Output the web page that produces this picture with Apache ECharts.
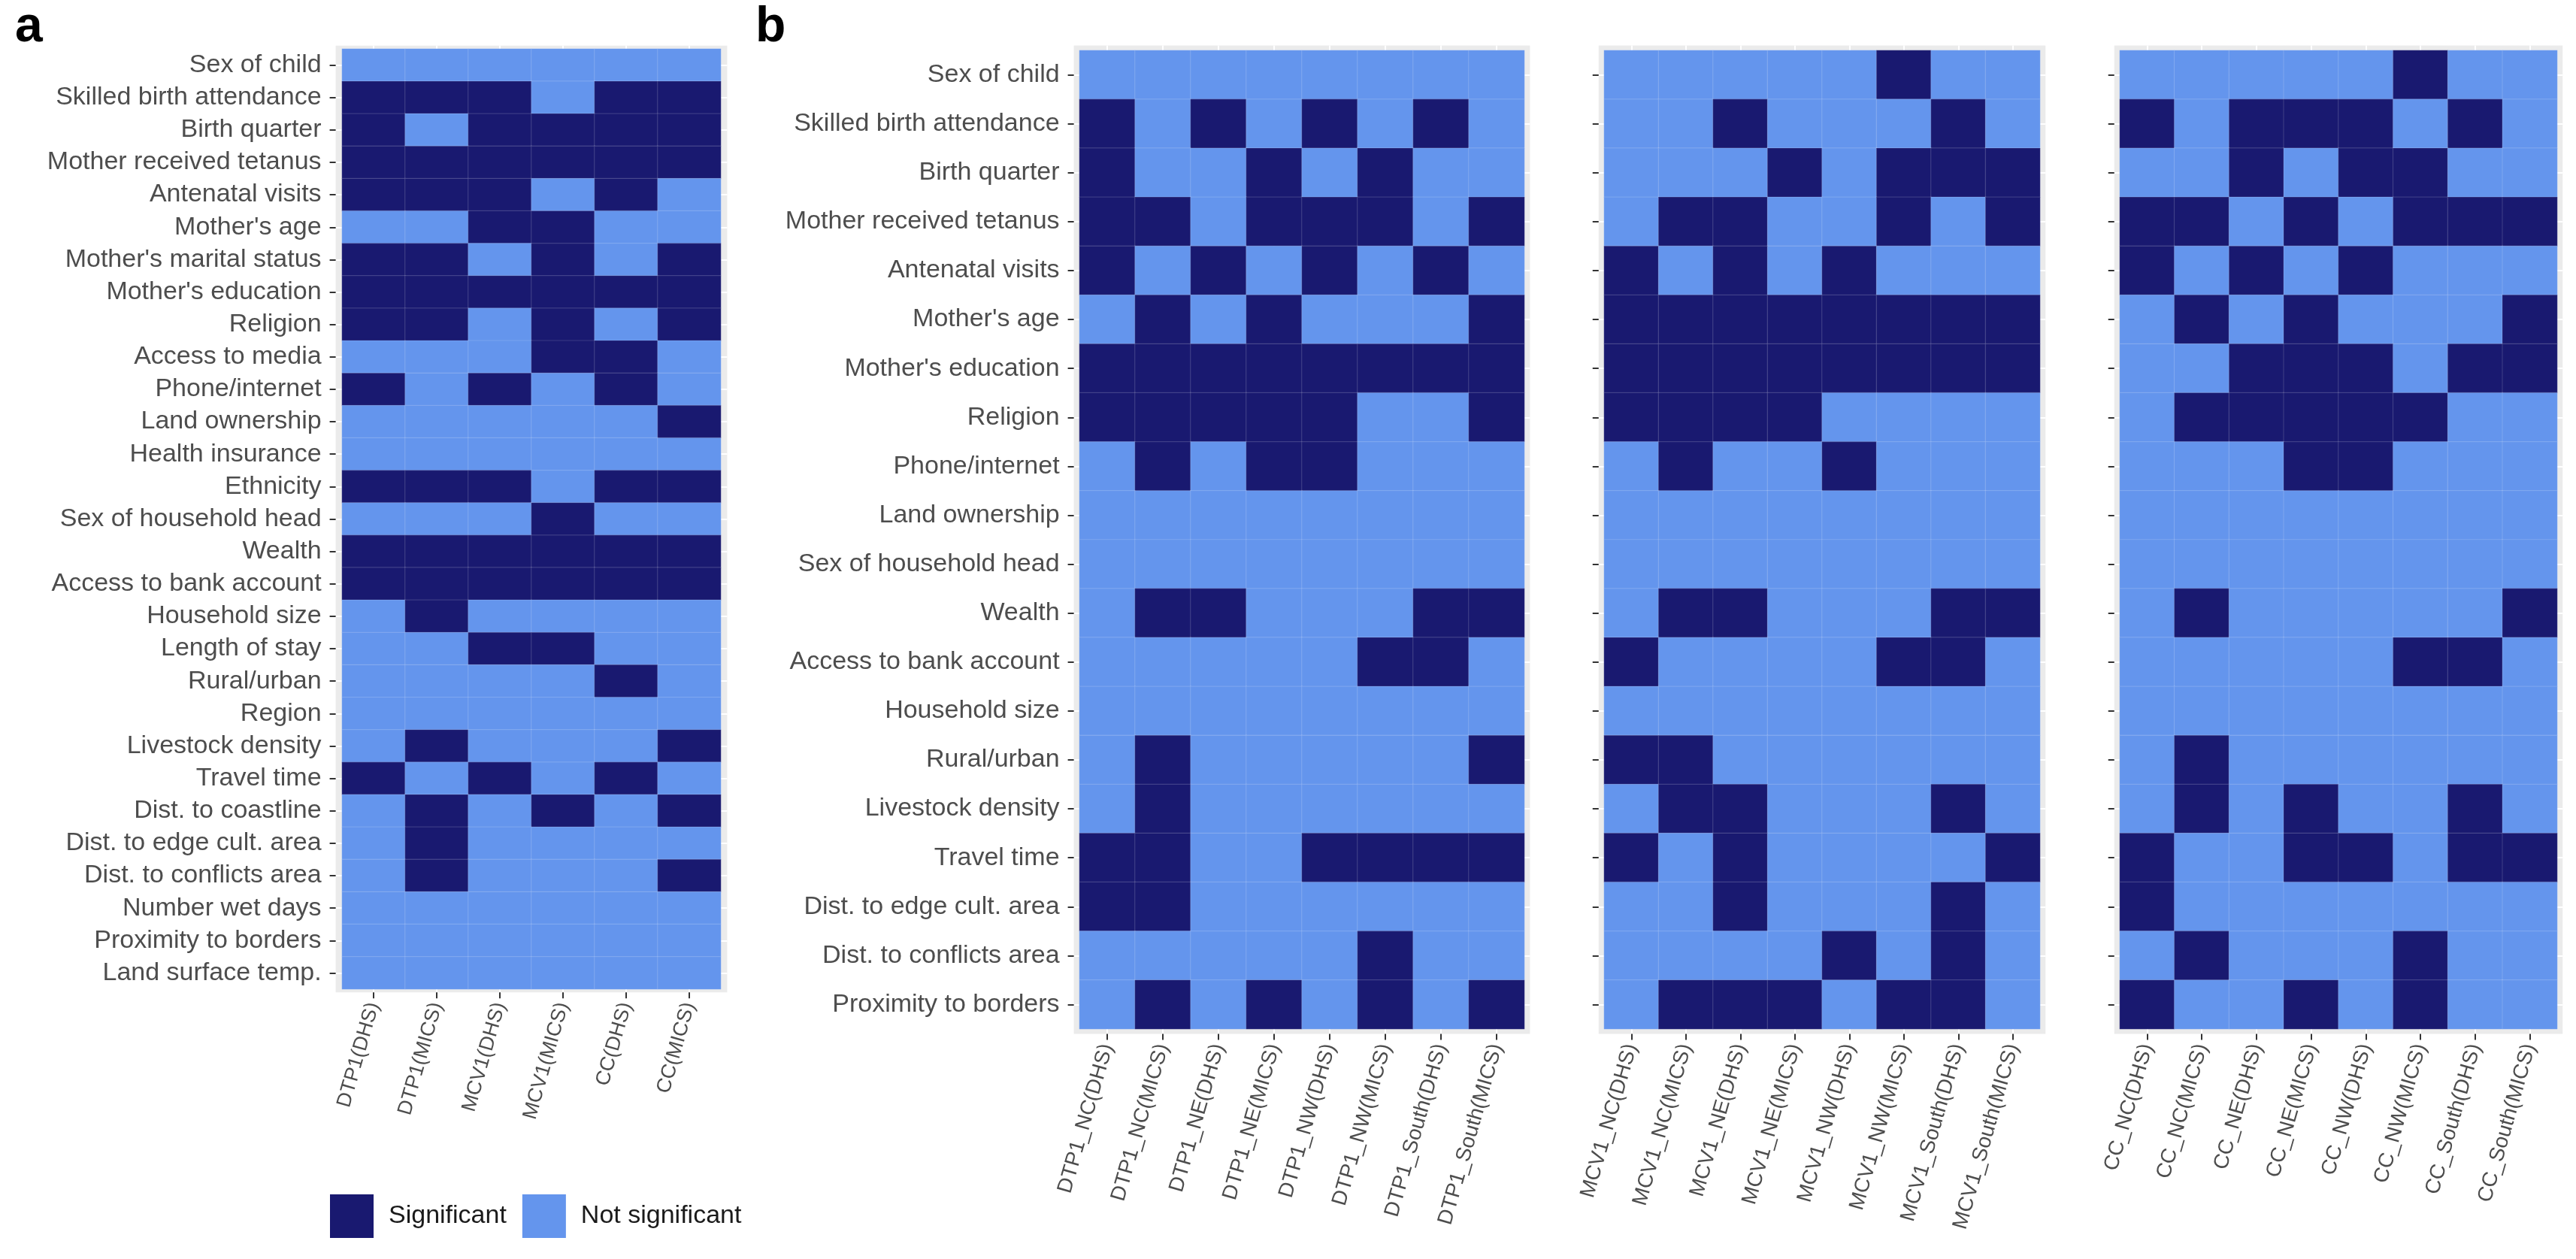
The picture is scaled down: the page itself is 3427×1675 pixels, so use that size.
<!DOCTYPE html>
<html>
<head>
<meta charset="utf-8">
<script src="https://cdn.jsdelivr.net/npm/echarts@6/dist/echarts.min.js"></script>
<style>
html,body{margin:0;padding:0;background:#fff;}
#chart{width:3427px;height:1675px;}
</style>
</head>
<body>
<div id="chart"></div>
<script>
// ---------- DATA ----------
const rowsA = ["Sex of child","Skilled birth attendance","Birth quarter","Mother received tetanus","Antenatal visits","Mother's age","Mother's marital status","Mother's education","Religion","Access to media","Phone/internet","Land ownership","Health insurance","Ethnicity","Sex of household head","Wealth","Access to bank account","Household size","Length of stay","Rural/urban","Region","Livestock density","Travel time","Dist. to coastline","Dist. to edge cult. area","Dist. to conflicts area","Number wet days","Proximity to borders","Land surface temp."];
const colsA = ["DTP1(DHS)","DTP1(MICS)","MCV1(DHS)","MCV1(MICS)","CC(DHS)","CC(MICS)"];
// 1 = Significant, 0 = Not significant (one array per row)
const sigA = [
  [0,0,0,0,0,0],
  [1,1,1,0,1,1],
  [1,0,1,1,1,1],
  [1,1,1,1,1,1],
  [1,1,1,0,1,0],
  [0,0,1,1,0,0],
  [1,1,0,1,0,1],
  [1,1,1,1,1,1],
  [1,1,0,1,0,1],
  [0,0,0,1,1,0],
  [1,0,1,0,1,0],
  [0,0,0,0,0,1],
  [0,0,0,0,0,0],
  [1,1,1,0,1,1],
  [0,0,0,1,0,0],
  [1,1,1,1,1,1],
  [1,1,1,1,1,1],
  [0,1,0,0,0,0],
  [0,0,1,1,0,0],
  [0,0,0,0,1,0],
  [0,0,0,0,0,0],
  [0,1,0,0,0,1],
  [1,0,1,0,1,0],
  [0,1,0,1,0,1],
  [0,1,0,0,0,0],
  [0,1,0,0,0,1],
  [0,0,0,0,0,0],
  [0,0,0,0,0,0],
  [0,0,0,0,0,0]
];

const rowsB = ["Sex of child","Skilled birth attendance","Birth quarter","Mother received tetanus","Antenatal visits","Mother's age","Mother's education","Religion","Phone/internet","Land ownership","Sex of household head","Wealth","Access to bank account","Household size","Rural/urban","Livestock density","Travel time","Dist. to edge cult. area","Dist. to conflicts area","Proximity to borders"];
const colsDTP1 = ["DTP1_NC(DHS)","DTP1_NC(MICS)","DTP1_NE(DHS)","DTP1_NE(MICS)","DTP1_NW(DHS)","DTP1_NW(MICS)","DTP1_South(DHS)","DTP1_South(MICS)"];
const colsMCV1 = ["MCV1_NC(DHS)","MCV1_NC(MICS)","MCV1_NE(DHS)","MCV1_NE(MICS)","MCV1_NW(DHS)","MCV1_NW(MICS)","MCV1_South(DHS)","MCV1_South(MICS)"];
const colsCC = ["CC_NC(DHS)","CC_NC(MICS)","CC_NE(DHS)","CC_NE(MICS)","CC_NW(DHS)","CC_NW(MICS)","CC_South(DHS)","CC_South(MICS)"];
const sigDTP1 = [
  [0,0,0,0,0,0,0,0],
  [1,0,1,0,1,0,1,0],
  [1,0,0,1,0,1,0,0],
  [1,1,0,1,1,1,0,1],
  [1,0,1,0,1,0,1,0],
  [0,1,0,1,0,0,0,1],
  [1,1,1,1,1,1,1,1],
  [1,1,1,1,1,0,0,1],
  [0,1,0,1,1,0,0,0],
  [0,0,0,0,0,0,0,0],
  [0,0,0,0,0,0,0,0],
  [0,1,1,0,0,0,1,1],
  [0,0,0,0,0,1,1,0],
  [0,0,0,0,0,0,0,0],
  [0,1,0,0,0,0,0,1],
  [0,1,0,0,0,0,0,0],
  [1,1,0,0,1,1,1,1],
  [1,1,0,0,0,0,0,0],
  [0,0,0,0,0,1,0,0],
  [0,1,0,1,0,1,0,1]
];
const sigMCV1 = [
  [0,0,0,0,0,1,0,0],
  [0,0,1,0,0,0,1,0],
  [0,0,0,1,0,1,1,1],
  [0,1,1,0,0,1,0,1],
  [1,0,1,0,1,0,0,0],
  [1,1,1,1,1,1,1,1],
  [1,1,1,1,1,1,1,1],
  [1,1,1,1,0,0,0,0],
  [0,1,0,0,1,0,0,0],
  [0,0,0,0,0,0,0,0],
  [0,0,0,0,0,0,0,0],
  [0,1,1,0,0,0,1,1],
  [1,0,0,0,0,1,1,0],
  [0,0,0,0,0,0,0,0],
  [1,1,0,0,0,0,0,0],
  [0,1,1,0,0,0,1,0],
  [1,0,1,0,0,0,0,1],
  [0,0,1,0,0,0,1,0],
  [0,0,0,0,1,0,1,0],
  [0,1,1,1,0,1,1,0]
];
const sigCC = [
  [0,0,0,0,0,1,0,0],
  [1,0,1,1,1,0,1,0],
  [0,0,1,0,1,1,0,0],
  [1,1,0,1,0,1,1,1],
  [1,0,1,0,1,0,0,0],
  [0,1,0,1,0,0,0,1],
  [0,0,1,1,1,0,1,1],
  [0,1,1,1,1,1,0,0],
  [0,0,0,1,1,0,0,0],
  [0,0,0,0,0,0,0,0],
  [0,0,0,0,0,0,0,0],
  [0,1,0,0,0,0,0,1],
  [0,0,0,0,0,1,1,0],
  [0,0,0,0,0,0,0,0],
  [0,1,0,0,0,0,0,0],
  [0,1,0,1,0,0,1,0],
  [1,0,0,1,1,0,1,1],
  [1,0,0,0,0,0,0,0],
  [0,1,0,0,0,1,0,0],
  [1,0,0,1,0,1,0,0]
];
const legendLabels = ["Significant","Not significant"];
const panelLabels = ["a","b"];

// ---------- STYLE ----------
const FONT = "'Liberation Sans', Arial, sans-serif";
const DARK = "#191970", LIGHT = "#6495ED", PANEL_BG = "#EBEBEB", TXT = "#4D4D4D";

// panel layout (cell areas) ; bg margin = 0.1 cell
const panels = [
  {rows: rowsA, cols: colsA, sig: sigA, left: 455, top: 65, width: 504, height: 1251, yLabels: true, xFont: 27},
  {rows: rowsB, cols: colsDTP1, sig: sigDTP1, left: 1436, top: 67, width: 592, height: 1302, yLabels: true, xFont: 28},
  {rows: rowsB, cols: colsMCV1, sig: sigMCV1, left: 2134, top: 67, width: 580, height: 1302, yLabels: false, xFont: 28},
  {rows: rowsB, cols: colsCC, sig: sigCC, left: 2820, top: 67, width: 582, height: 1302, yLabels: false, xFont: 28}
];

const grid = [], xAxis = [], yAxis = [], series = [];
panels.forEach((p, k) => {
  const nx = p.cols.length, ny = p.rows.length;
  const cw = p.width / nx, ch = p.height / ny;
  const mx = 0.1 * cw, my = 0.1 * ch;
  const bgIdx = 2 * k, dIdx = 2 * k + 1;
  // background grid (gray panel with white major grid lines at cell centres)
  grid.push({left: p.left - mx, top: p.top - my, width: p.width + 2 * mx, height: p.height + 2 * my,
    show: true, backgroundColor: PANEL_BG, borderWidth: 0, containLabel: false});
  const xc = [], yc = [];
  for (let i = 1; i <= nx; i++) xc.push(i);
  for (let i = 1; i <= ny; i++) yc.push(i);
  xAxis.push({type: 'value', gridIndex: bgIdx, min: 0.4, max: nx + 0.6,
    axisLine: {show: false}, axisTick: {show: false, customValues: xc}, axisLabel: {show: false, customValues: xc},
    splitLine: {show: true, lineStyle: {color: '#FFFFFF', width: 2}}});
  yAxis.push({type: 'value', gridIndex: bgIdx, min: 0.4, max: ny + 0.6, inverse: true,
    axisLine: {show: false}, axisTick: {show: false, customValues: yc}, axisLabel: {show: false, customValues: yc},
    splitLine: {show: true, lineStyle: {color: '#FFFFFF', width: 2}}});
  // data grid
  grid.push({left: p.left, top: p.top, width: p.width, height: p.height, show: false, containLabel: false});
  xAxis.push({type: 'category', gridIndex: dIdx, data: p.cols, position: 'bottom', offset: my,
    axisLine: {show: false},
    axisTick: {show: true, alignWithLabel: true, length: 8, lineStyle: {color: '#333333', width: 2}},
    axisLabel: {show: true, interval: 0, rotate: 74, margin: 14, fontSize: p.xFont, color: TXT, fontFamily: FONT},
    splitLine: {show: false}});
  yAxis.push({type: 'category', gridIndex: dIdx, data: p.rows, inverse: true, position: 'left', offset: mx,
    axisLine: {show: false},
    axisTick: {show: true, alignWithLabel: true, length: 8, lineStyle: {color: '#333333', width: 2}},
    axisLabel: {show: p.yLabels, interval: 0, margin: 19, fontSize: 34, color: TXT, fontFamily: FONT},
    splitLine: {show: false}});
  const data = [];
  p.sig.forEach((row, r) => row.forEach((v, c) => data.push([c, r, v])));
  series.push({type: 'heatmap', xAxisIndex: dIdx, yAxisIndex: dIdx, data: data,
    itemStyle: {borderColor: 'rgba(255,255,255,0.14)', borderWidth: 1.2},
    emphasis: {disabled: true}, animation: false});
});

const option = {
  backgroundColor: '#FFFFFF',
  animation: false,
  textStyle: {fontFamily: FONT},
  grid: grid, xAxis: xAxis, yAxis: yAxis, series: series,
  visualMap: {
    type: 'piecewise', seriesIndex: [0, 1, 2, 3], dimension: 2,
    orient: 'horizontal', inverse: true, left: 439, top: 1589, padding: 0,
    itemWidth: 58, itemHeight: 58, itemSymbol: 'rect', itemGap: 21, textGap: 20,
    selectedMode: false,
    textStyle: {fontSize: 34, color: '#1A1A1A', fontFamily: FONT},
    pieces: [
      {value: 1, label: legendLabels[0], color: DARK},
      {value: 0, label: legendLabels[1], color: LIGHT}
    ]
  },
  graphic: [
    {type: 'text', left: 20, top: 4, style: {text: panelLabels[0], font: "bold 66px " + FONT, fill: '#000'}},
    {type: 'text', left: 1005, top: 4, style: {text: panelLabels[1], font: "bold 66px " + FONT, fill: '#000'}}
  ]
};

const chart = echarts.init(document.getElementById('chart'), null, {renderer: 'canvas'});
chart.setOption(option);
</script>
</body>
</html>
